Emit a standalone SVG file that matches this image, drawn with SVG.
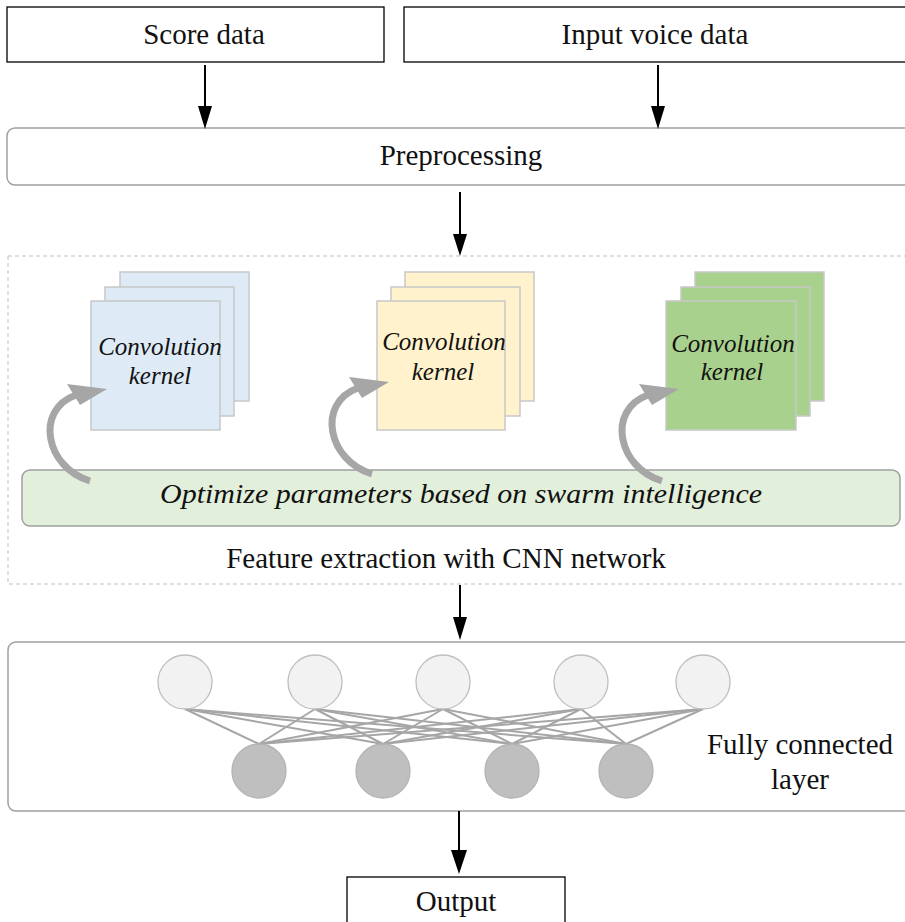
<svg xmlns="http://www.w3.org/2000/svg" width="905" height="922" viewBox="0 0 905 922">
<style>
.t{font-family:"Liberation Serif","Times New Roman",serif;fill:#111;text-anchor:middle}
.r{font-size:29px}
.i{font-style:italic}
.k{font-size:25px}
.box{fill:#fff;stroke:#000;stroke-width:1.3}
.rbox{fill:#fff;stroke:#a0a0a0;stroke-width:1.5}
.ax{stroke:#000;stroke-width:2;fill:none}
.ah{fill:#000}
.sq{stroke:#c8c8c8;stroke-width:1.5}
.nl{stroke:#a6a6a6;stroke-width:2}
.top{fill:#f2f2f2;stroke:#bfbfbf;stroke-width:1.3}
.bot{fill:#bfbfbf;stroke:#b3b3b3;stroke-width:1.3}
</style>
<defs>
<g id="curl">
<path d="M90,481 C46,468 34,410 76,395" fill="none" stroke="#a6a6a6" stroke-width="7"/>
<polygon points="107,389 67,384 80,405" fill="#a6a6a6"/>
</g>
</defs>
<rect width="905" height="922" fill="#fff"/>

<g id="score">
<rect class="box" x="7" y="7" width="377" height="55"/>
<text class="t r" x="204" y="44">Score data</text>
</g>
<g id="voice">
<rect class="box" x="404" y="7" width="520" height="55"/>
<text class="t r" x="655" y="44">Input voice data</text>
</g>
<g id="preprocessing">
<rect class="rbox" x="7" y="128" width="920" height="57" rx="8"/>
<text class="t r" x="461" y="165">Preprocessing</text>
</g>
<g id="cnn">
<rect x="8" y="256" width="920" height="328" fill="none" stroke="#bfbfbf" stroke-width="1" stroke-dasharray="4,3"/>
<g id="kernel-blue">
<rect class="sq" x="120" y="272" width="129" height="129" fill="#deebf7"/>
<rect class="sq" x="105" y="287" width="129" height="129" fill="#deebf7"/>
<rect class="sq" x="91" y="301" width="129" height="129" fill="#deebf7"/>
<text class="t i k" x="160" y="355">Convolution</text>
<text class="t i k" x="160" y="384">kernel</text>
</g>
<g id="kernel-yellow">
<rect class="sq" x="405" y="272" width="129" height="129" fill="#fff2cc"/>
<rect class="sq" x="391" y="287" width="129" height="129" fill="#fff2cc"/>
<rect class="sq" x="377" y="301" width="128" height="129" fill="#fff2cc"/>
<text class="t i k" x="444" y="350">Convolution</text>
<text class="t i k" x="443" y="380">kernel</text>
</g>
<g id="kernel-green">
<rect class="sq" x="695" y="272" width="129" height="129" fill="#a9d18e"/>
<rect class="sq" x="681" y="287" width="129" height="129" fill="#a9d18e"/>
<rect class="sq" x="666" y="301" width="130" height="129" fill="#a9d18e"/>
<text class="t i k" x="733" y="352">Convolution</text>
<text class="t i k" x="732" y="380">kernel</text>
</g>
<g id="optimize">
<rect x="22" y="470" width="878" height="56" rx="8" fill="#e2efda" stroke="#a0a0a0" stroke-width="1.5"/>
<text class="t i" x="461" y="503" font-size="28" textLength="602" lengthAdjust="spacingAndGlyphs">Optimize parameters based on swarm intelligence</text>
</g>
<use href="#curl"/>
<use href="#curl" transform="translate(282,-7)"/>
<use href="#curl" transform="translate(572,0)"/>
<text class="t r" x="446" y="568">Feature extraction with CNN network</text>
</g>
<g id="fc">
<rect class="rbox" x="8" y="642" width="920" height="169" rx="8"/>
<g id="fc-lines">
<line class="nl" x1="185" y1="709" x2="259" y2="744"/><line class="nl" x1="185" y1="709" x2="383" y2="744"/><line class="nl" x1="185" y1="709" x2="512" y2="744"/><line class="nl" x1="185" y1="709" x2="626" y2="744"/>
<line class="nl" x1="315" y1="709" x2="259" y2="744"/><line class="nl" x1="315" y1="709" x2="383" y2="744"/><line class="nl" x1="315" y1="709" x2="512" y2="744"/><line class="nl" x1="315" y1="709" x2="626" y2="744"/>
<line class="nl" x1="443" y1="709" x2="259" y2="744"/><line class="nl" x1="443" y1="709" x2="383" y2="744"/><line class="nl" x1="443" y1="709" x2="512" y2="744"/><line class="nl" x1="443" y1="709" x2="626" y2="744"/>
<line class="nl" x1="581" y1="709" x2="259" y2="744"/><line class="nl" x1="581" y1="709" x2="383" y2="744"/><line class="nl" x1="581" y1="709" x2="512" y2="744"/><line class="nl" x1="581" y1="709" x2="626" y2="744"/>
<line class="nl" x1="703" y1="709" x2="259" y2="744"/><line class="nl" x1="703" y1="709" x2="383" y2="744"/><line class="nl" x1="703" y1="709" x2="512" y2="744"/><line class="nl" x1="703" y1="709" x2="626" y2="744"/>
</g>
<circle class="top" cx="185" cy="682" r="27"/>
<circle class="top" cx="315" cy="682" r="27"/>
<circle class="top" cx="443" cy="682" r="27"/>
<circle class="top" cx="581" cy="682" r="27"/>
<circle class="top" cx="703" cy="682" r="27"/>
<circle class="bot" cx="259" cy="771" r="27"/>
<circle class="bot" cx="383" cy="771" r="27"/>
<circle class="bot" cx="512" cy="771" r="27"/>
<circle class="bot" cx="626" cy="771" r="27"/>
<text class="t r" x="800" y="754">Fully connected</text>
<text class="t r" x="800" y="789">layer</text>
</g>
<g id="output">
<rect class="box" x="347" y="877" width="218" height="60"/>
<text class="t r" x="456" y="911">Output</text>
</g>
<g id="connectors">
<line class="ax" x1="205" y1="65" x2="205" y2="108"/><polygon class="ah" points="198,106 212,106 205,129"/>
<line class="ax" x1="658" y1="65" x2="658" y2="108"/><polygon class="ah" points="651,106 665,106 658,129"/>
<line class="ax" x1="460" y1="192" x2="460" y2="236"/><polygon class="ah" points="453,234 467,234 460,256"/>
<line class="ax" x1="460" y1="585" x2="460" y2="619"/><polygon class="ah" points="453,617 467,617 460,640"/>
<line class="ax" x1="459" y1="811" x2="459" y2="852"/><polygon class="ah" points="451,850 467,850 459,874"/>
</g>
</svg>
